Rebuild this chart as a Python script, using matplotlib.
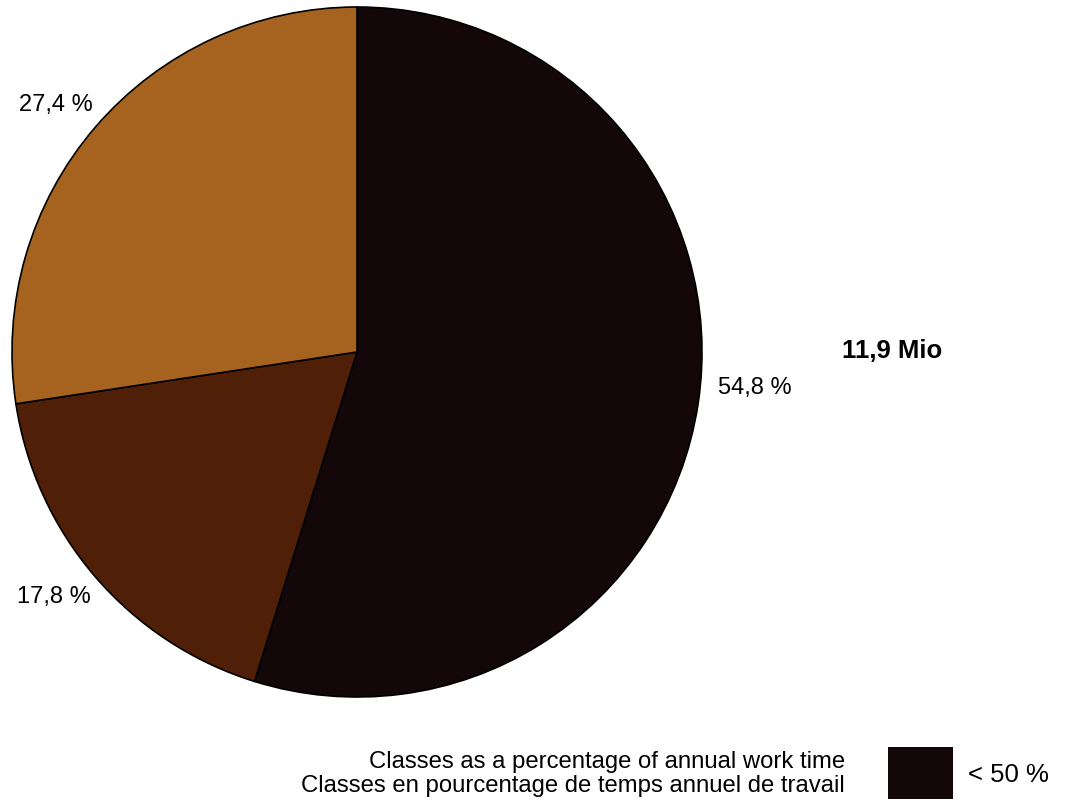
import matplotlib
matplotlib.use("Agg")
import matplotlib.pyplot as plt
from matplotlib.patches import Rectangle

plt.rcParams['font.family'] = ['Liberation Sans', 'DejaVu Sans']

# data
classes = ['< 50 %', '50 - 100 %', '> 100 %']
shares = [54.8, 17.8, 27.4]
share_labels = ['54,8 %', '17,8 %', '27,4 %']
total_label = '11,9 Mio'
legend_title = ['Classes as a percentage of annual work time',
                'Classes en pourcentage de temps annuel de travail']
colors = ['#140709', '#4f1f08', '#a6621f']

W, H = 1066, 803
fig = plt.figure(figsize=(W / 100, H / 100), dpi=100)
ax = fig.add_axes([0, 0, 1, 1])

cx, cy, r = 357, H - 353, 345
ax.pie(shares, colors=colors, startangle=90, counterclock=False,
       center=(cx, cy), radius=r,
       wedgeprops=dict(edgecolor='black', linewidth=1.2))

# labels next to slices
label_pos = [(718, 388), (17, 597), (19, 105)]
for (x, y), txt in zip(label_pos, share_labels):
    ax.text(x, H - y, txt, fontsize=17, ha='left', va='center')

ax.text(842, H - 351, total_label, fontsize=18.5, fontweight='bold',
        ha='left', va='center')

# legend
ax.text(845, H - 762, legend_title[0], fontsize=17.2, ha='right', va='center')
ax.text(845, H - 786, legend_title[1], fontsize=17.2, ha='right', va='center')
ax.add_patch(Rectangle((888, H - 800), 65, 52, facecolor=colors[0],
                       edgecolor='none'))
ax.text(968, H - 775, classes[0], fontsize=18.5, ha='left', va='center')

ax.set_xlim(0, W)
ax.set_ylim(0, H)
ax.set_aspect('equal')
ax.axis('off')

fig.savefig('out.png', dpi=100)
